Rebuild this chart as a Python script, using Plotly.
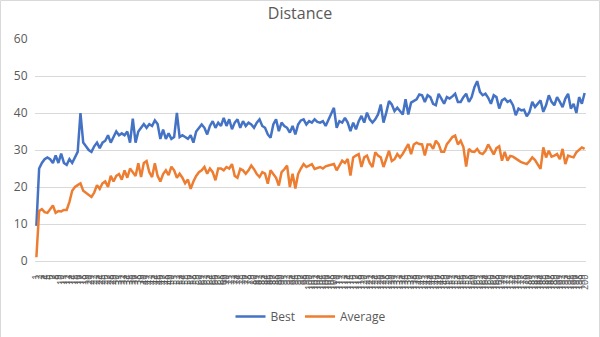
import plotly.graph_objects as go

generations = [str(i) for i in range(1, 201)]

best = [
    9.5, 25, 26.5, 27.5, 28, 27.5, 26.5, 28.5, 26.5, 29,
    26.5, 26, 27.5, 26.5, 28, 29.5, 40, 32, 31, 30,
    29.5, 31, 32, 30.5, 32, 32.5, 34, 32, 33.5, 35,
    34, 34.5, 34, 35, 32, 38.5, 32, 35, 36, 37,
    36, 37, 36.5, 38, 37, 33, 35.5, 33, 34.5, 33,
    33.5, 40, 33.5, 34, 33.5, 33, 34, 32, 35, 36,
    36.9, 36, 34.2, 36.5, 37.8, 36, 37.4, 36.5, 38.7, 36.5,
    38.3, 35.6, 37.4, 38.3, 36, 37.8, 36.5, 37.4, 36.9, 36,
    37.4, 38.3, 36.5, 36, 34.2, 33.3, 36.9, 38.3, 35.1, 37.4,
    36.5, 36, 34.7, 36.5, 34.2, 36.9, 38, 38.3, 36.9, 37.8,
    37.4, 38.3, 37.6, 37.4, 37.8, 36.5, 38.3, 39.6, 41.4, 36,
    37.8, 37.4, 38.7, 37.4, 35.1, 37.4, 35.6, 37.8, 39.2, 37.4,
    40.1, 38.3, 37.4, 38.3, 39.6, 42.3, 37.4, 40.1, 43.2, 42.3,
    40.5, 41.4, 40.5, 39.6, 43.7, 39.6, 42.8, 43.2, 43.7, 45,
    44.8, 43, 44.8, 44.3, 42.5, 42.1, 45.2, 43.9, 42.5, 44.3,
    43.9, 44.5, 45.2, 43, 43, 44.3, 45.2, 43, 44.3, 47,
    48.6, 45.7, 44.8, 45.2, 44.1, 42.5, 44.8, 44.3, 41.2, 43.4,
    43.9, 43, 43.4, 42.1, 39.4, 41.2, 40.7, 40.9, 39.1, 40.3,
    43, 41.6, 42.5, 43.4, 40.3, 42.1, 44.8, 43, 42.1, 44.3,
    43, 41.6, 43.9, 45.2, 41.2, 42.5, 40, 44.3, 42.5, 45.4,
]

average = [
    1, 13.5, 14, 13.2, 13, 14, 15, 13, 13.5, 13.4,
    13.8, 13.8, 16, 19, 20, 20.5, 21, 19, 18.5, 18,
    17.3, 18.5, 20.5, 19.5, 21, 21.5, 20, 23, 21.5, 23,
    23.5, 22, 24.5, 22.5, 25, 24, 23, 26.4, 22.7, 26.5,
    27, 24, 22.7, 26.4, 23, 21.5, 23.5, 24.5, 23.2, 25.5,
    24.5, 22.5, 23.6, 22.5, 21, 22, 19.5, 21.5, 23, 24,
    24.5, 25.4, 23.6, 25, 24, 21.8, 25, 25, 24.5, 25.4,
    25, 26.2, 23, 22.5, 24.9, 24.5, 23.6, 24.5, 25.8, 24.8,
    23.5, 22.7, 24, 23.6, 20.9, 24.5, 23.6, 22.5, 20.4, 24,
    24.8, 25.8, 20, 23.6, 19.6, 23.5, 25, 26.2, 25.4, 25.8,
    26.2, 24.9, 25.2, 25.4, 25, 25.6, 25.8, 26, 26.2, 24.5,
    26, 27.1, 26.5, 27.6, 23.1, 28, 28.5, 28.9, 25.4, 28,
    28.5, 26.5, 25.4, 29.4, 28.5, 28, 25.4, 27.5, 29.8, 27,
    27.5, 28.9, 28, 29, 30.5, 31.6, 28.9, 31.5, 32, 31.6,
    31.5, 28.5, 31.5, 31.5, 30.3, 32.5, 31.6, 29.5, 29.5, 31.6,
    32.5, 33.5, 33.9, 31.5, 32.5, 30.8, 25.5, 30.3, 29.6, 29.5,
    30.3, 29.2, 28.9, 29.8, 31.5, 30, 28.8, 30.5, 31, 27.1,
    29.5, 27.1, 28.4, 28.2, 27.6, 27.2, 26.7, 26.4, 26.2, 27,
    28, 27.3, 26, 24.9, 30.7, 28, 29.8, 28.2, 28.5, 28.9,
    27.5, 30.3, 26.2, 28.5, 28.2, 28, 29.4, 30, 30.7, 30.3,
]

y_ticks = [0, 10, 20, 30, 40, 50, 60]

fig = go.Figure()
fig.add_trace(go.Scatter(x=generations, y=best, name="Best", mode="lines",
                         line=dict(color="#4472C4", width=2.5)))
fig.add_trace(go.Scatter(x=generations, y=average, name="Average", mode="lines",
                         line=dict(color="#ED7D31", width=2.5)))

font_family = "Open Sans, Liberation Sans, sans-serif"
fig.update_layout(
    width=600, height=337,
    margin=dict(l=35, r=14, t=39, b=76, autoexpand=False),
    paper_bgcolor="white", plot_bgcolor="white",
    title=dict(text="Distance", x=0.5, xanchor="center", y=0.96, yanchor="middle",
               font=dict(family=font_family, size=16, color="#595959")),
    font=dict(family=font_family, color="#595959"),
    showlegend=True,
    legend=dict(orientation="h", x=0.5, xanchor="center", y=-0.25, yanchor="middle",
                font=dict(size=12, color="#595959"), itemwidth=30,
                bgcolor="rgba(0,0,0,0)"),
    xaxis=dict(type="category", tickmode="array", tickvals=generations, ticktext=generations,
               tickangle=-90, tickfont=dict(size=9, color="#555555"),
               ticks="outside", ticklen=9, tickcolor="rgba(0,0,0,0)", automargin=False,
               showgrid=False, showline=True, linecolor="#d9d9d9", linewidth=1,
               zeroline=False, range=[-0.5, len(generations) - 0.5]),
    yaxis=dict(range=[0, 60], tickvals=y_ticks, showgrid=True, gridcolor="#d9d9d9",
               gridwidth=1, zeroline=False, showline=False,
               ticks="outside", ticklen=4, tickcolor="rgba(0,0,0,0)", automargin=False,
               tickfont=dict(size=12, color="#595959")),
    shapes=[dict(type="rect", xref="paper", yref="paper", x0=-34.5/551, x1=1 + 13.5/551,
                 y0=-90/222, y1=1 + 38.5/222, line=dict(color="#d9d9d9", width=1))],
)

fig.write_html("out.html")
